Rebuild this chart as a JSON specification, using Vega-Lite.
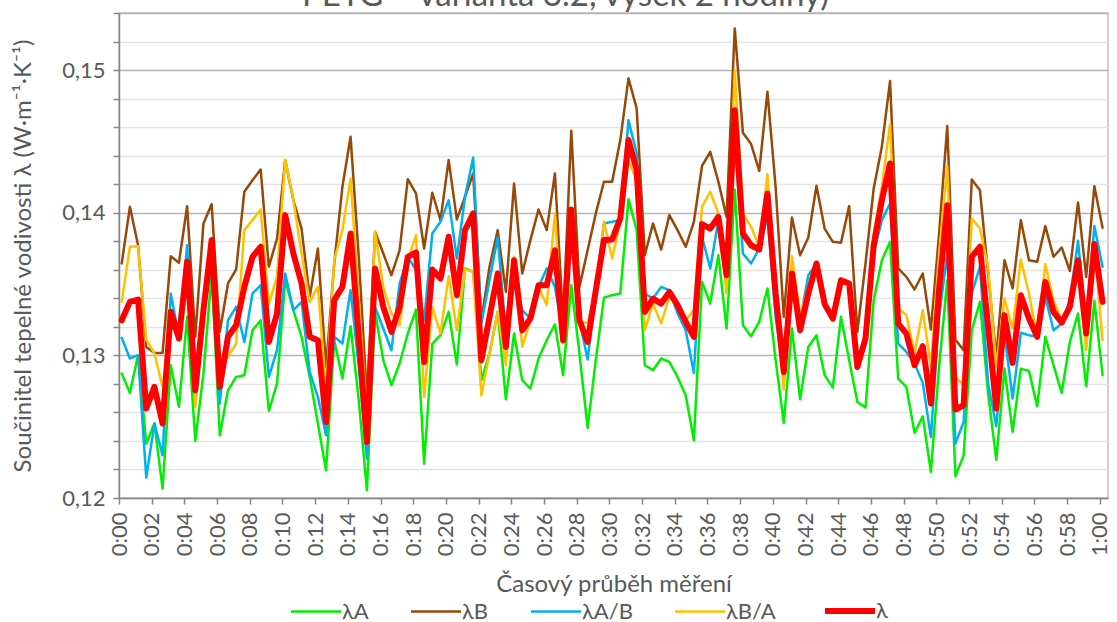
{
 "$schema": "https://vega.github.io/schema/vega-lite/v6.json",
 "width": 989, "height": 485,
 "autosize": {"type": "none"},
 "padding": {"left": 119, "top": 13, "right": 9, "bottom": 124},
 "background": "white",
 "title": {"text": "PETG – varianta 3.2, výsek 2 hodiny)", "anchor": "middle", "dx": -48, "offset": -11, "fontSize": 33, "font": "Lato", "fontWeight": "normal", "color": "#595959"},
 "config": {"view": {"stroke": "#bfbfbf", "strokeWidth": 1.5}, "font": "Lato"},
 "data": {"values": [
{"t":10,"a":0.12872,"b":0.13644,"ab":0.13123,"ba":0.13375,"l":0.13246},
{"t":40,"a":0.12737,"b":0.14041,"ab":0.12978,"ba":0.13761,"l":0.13375},
{"t":70,"a":0.13001,"b":0.13772,"ab":0.13001,"ba":0.13765,"l":0.13391},
{"t":100,"a":0.12381,"b":0.13059,"ab":0.12143,"ba":0.13111,"l":0.12627},
{"t":130,"a":0.12522,"b":0.13017,"ab":0.12522,"ba":0.13013,"l":0.12779},
{"t":160,"a":0.12066,"b":0.13017,"ab":0.12299,"ba":0.12779,"l":0.12522},
{"t":190,"a":0.12931,"b":0.13695,"ab":0.13434,"ba":0.13200,"l":0.13305},
{"t":220,"a":0.12639,"b":0.13649,"ab":0.13130,"ba":0.13153,"l":0.13118},
{"t":250,"a":0.13270,"b":0.14046,"ab":0.13772,"ba":0.13621,"l":0.13656},
{"t":280,"a":0.12400,"b":0.13130,"ab":0.12662,"ba":0.12639,"l":0.12755},
{"t":310,"a":0.12872,"b":0.13925,"ab":0.13270,"ba":0.13317,"l":0.13317},
{"t":340,"a":0.13574,"b":0.14060,"ab":0.13644,"ba":0.13737,"l":0.13808},
{"t":370,"a":0.12440,"b":0.13165,"ab":0.12662,"ba":0.12943,"l":0.12779},
{"t":400,"a":0.12755,"b":0.13504,"ab":0.13246,"ba":0.12989,"l":0.13130},
{"t":430,"a":0.12849,"b":0.13602,"ab":0.13340,"ba":0.13083,"l":0.13211},
{"t":460,"a":0.12861,"b":0.14147,"ab":0.13094,"ba":0.13878,"l":0.13480},
{"t":490,"a":0.13176,"b":0.14228,"ab":0.13434,"ba":0.13948,"l":0.13691},
{"t":520,"a":0.13246,"b":0.14303,"ab":0.13492,"ba":0.14023,"l":0.13761},
{"t":550,"a":0.12610,"b":0.13621,"ab":0.12849,"ba":0.13359,"l":0.13094},
{"t":580,"a":0.12802,"b":0.13819,"ab":0.13036,"ba":0.13550,"l":0.13293},
{"t":610,"a":0.13527,"b":0.14369,"ab":0.13574,"ba":0.14373,"l":0.13983},
{"t":640,"a":0.13317,"b":0.14088,"ab":0.13317,"ba":0.14088,"l":0.13714},
{"t":670,"a":0.13130,"b":0.13889,"ab":0.13375,"ba":0.13714,"l":0.13504},
{"t":700,"a":0.12849,"b":0.13410,"ab":0.12884,"ba":0.13375,"l":0.13130},
{"t":730,"a":0.12522,"b":0.13749,"ab":0.12709,"ba":0.13480,"l":0.13106},
{"t":760,"a":0.12194,"b":0.12919,"ab":0.12440,"ba":0.12755,"l":0.12533},
{"t":790,"a":0.13106,"b":0.13644,"ab":0.13130,"ba":0.13667,"l":0.13387},
{"t":820,"a":0.12837,"b":0.14182,"ab":0.13083,"ba":0.13878,"l":0.13480},
{"t":850,"a":0.13204,"b":0.14532,"ab":0.13457,"ba":0.14240,"l":0.13854},
{"t":880,"a":0.12685,"b":0.13691,"ab":0.12919,"ba":0.13387,"l":0.13130},
{"t":910,"a":0.12054,"b":0.12709,"ab":0.12276,"ba":0.12592,"l":0.12393},
{"t":940,"a":0.13305,"b":0.13866,"ab":0.13340,"ba":0.13866,"l":0.13609},
{"t":970,"a":0.12966,"b":0.13714,"ab":0.13188,"ba":0.13480,"l":0.13340},
{"t":1000,"a":0.12791,"b":0.13562,"ab":0.13036,"ba":0.13293,"l":0.13165},
{"t":1030,"a":0.12943,"b":0.13737,"ab":0.13504,"ba":0.13211,"l":0.13340},
{"t":1060,"a":0.13153,"b":0.14235,"ab":0.13691,"ba":0.13667,"l":0.13691},
{"t":1090,"a":0.13321,"b":0.14135,"ab":0.13597,"ba":0.13843,"l":0.13721},
{"t":1120,"a":0.12241,"b":0.13749,"ab":0.13246,"ba":0.12709,"l":0.12954},
{"t":1150,"a":0.13083,"b":0.14140,"ab":0.13854,"ba":0.13340,"l":0.13602},
{"t":1180,"a":0.13141,"b":0.13948,"ab":0.13936,"ba":0.13153,"l":0.13539},
{"t":1210,"a":0.13305,"b":0.14369,"ab":0.14088,"ba":0.13555,"l":0.13831},
{"t":1240,"a":0.12935,"b":0.13953,"ab":0.13679,"ba":0.13176,"l":0.13422},
{"t":1270,"a":0.13609,"b":0.14112,"ab":0.14112,"ba":0.13602,"l":0.13878},
{"t":1300,"a":0.13585,"b":0.14275,"ab":0.14387,"ba":0.13585,"l":0.13995},
{"t":1330,"a":0.12826,"b":0.13246,"ab":0.13223,"ba":0.12720,"l":0.12966},
{"t":1360,"a":0.13013,"b":0.13621,"ab":0.13527,"ba":0.13013,"l":0.13270},
{"t":1390,"a":0.13305,"b":0.13878,"ab":0.13826,"ba":0.13305,"l":0.13574},
{"t":1420,"a":0.12692,"b":0.13445,"ab":0.13153,"ba":0.12931,"l":0.13059},
{"t":1450,"a":0.13153,"b":0.14205,"ab":0.13550,"ba":0.13691,"l":0.13667},
{"t":1480,"a":0.12826,"b":0.13574,"ab":0.13317,"ba":0.13059,"l":0.13176},
{"t":1510,"a":0.12767,"b":0.13808,"ab":0.13258,"ba":0.13246,"l":0.13258},
{"t":1540,"a":0.12978,"b":0.14023,"ab":0.13480,"ba":0.13480,"l":0.13492},
{"t":1570,"a":0.13106,"b":0.13878,"ab":0.13609,"ba":0.13352,"l":0.13492},
{"t":1600,"a":0.13218,"b":0.14275,"ab":0.13480,"ba":0.13995,"l":0.13737},
{"t":1630,"a":0.12861,"b":0.13246,"ab":0.13153,"ba":0.13083,"l":0.13106},
{"t":1660,"a":0.13492,"b":0.14574,"ab":0.13854,"ba":0.13948,"l":0.14023},
{"t":1690,"a":0.13013,"b":0.13480,"ab":0.13246,"ba":0.13228,"l":0.13246},
{"t":1720,"a":0.12491,"b":0.13737,"ab":0.12971,"ba":0.13228,"l":0.13094},
{"t":1750,"a":0.12966,"b":0.13995,"ab":0.13457,"ba":0.13457,"l":0.13457},
{"t":1780,"a":0.13405,"b":0.14217,"ab":0.13925,"ba":0.13936,"l":0.13808},
{"t":1810,"a":0.13422,"b":0.14217,"ab":0.13936,"ba":0.13679,"l":0.13812},
{"t":1840,"a":0.13434,"b":0.14509,"ab":0.13948,"ba":0.13936,"l":0.13960},
{"t":1870,"a":0.14095,"b":0.14942,"ab":0.14649,"ba":0.14369,"l":0.14509},
{"t":1900,"a":0.13878,"b":0.14731,"ab":0.14416,"ba":0.14228,"l":0.14299},
{"t":1930,"a":0.12931,"b":0.13702,"ab":0.13434,"ba":0.13176,"l":0.13305},
{"t":1960,"a":0.12896,"b":0.13925,"ab":0.13398,"ba":0.13363,"l":0.13398},
{"t":1990,"a":0.12978,"b":0.13742,"ab":0.13480,"ba":0.13223,"l":0.13363},
{"t":2020,"a":0.12954,"b":0.13983,"ab":0.13457,"ba":0.13410,"l":0.13445},
{"t":2050,"a":0.12849,"b":0.13878,"ab":0.13293,"ba":0.13340,"l":0.13352},
{"t":2080,"a":0.12720,"b":0.13761,"ab":0.13176,"ba":0.13246,"l":0.13235},
{"t":2110,"a":0.12405,"b":0.13936,"ab":0.12877,"ba":0.13317,"l":0.13130},
{"t":2140,"a":0.13515,"b":0.14329,"ab":0.13831,"ba":0.14041,"l":0.13920},
{"t":2170,"a":0.13363,"b":0.14427,"ab":0.13609,"ba":0.14147,"l":0.13889},
{"t":2200,"a":0.13702,"b":0.14217,"ab":0.13948,"ba":0.13995,"l":0.13971},
{"t":2230,"a":0.13188,"b":0.13971,"ab":0.13621,"ba":0.13434,"l":0.13562},
{"t":2260,"a":0.14163,"b":0.15292,"ab":0.14509,"ba":0.15000,"l":0.14719},
{"t":2290,"a":0.13211,"b":0.14560,"ab":0.13714,"ba":0.13995,"l":0.13854},
{"t":2320,"a":0.13134,"b":0.14481,"ab":0.13644,"ba":0.13901,"l":0.13772},
{"t":2350,"a":0.13235,"b":0.14294,"ab":0.13749,"ba":0.13761,"l":0.13742},
{"t":2380,"a":0.13469,"b":0.14848,"ab":0.13971,"ba":0.14271,"l":0.14135},
{"t":2410,"a":0.12966,"b":0.14182,"ab":0.13270,"ba":0.13387,"l":0.13434},
{"t":2440,"a":0.12526,"b":0.13270,"ab":0.12872,"ba":0.12760,"l":0.12884},
{"t":2470,"a":0.13188,"b":0.13967,"ab":0.13480,"ba":0.13695,"l":0.13574},
{"t":2500,"a":0.12692,"b":0.13702,"ab":0.13246,"ba":0.13282,"l":0.13176},
{"t":2530,"a":0.13059,"b":0.13826,"ab":0.13562,"ba":0.13480,"l":0.13434},
{"t":2560,"a":0.13141,"b":0.14189,"ab":0.13644,"ba":0.13621,"l":0.13644},
{"t":2590,"a":0.12861,"b":0.13889,"ab":0.13340,"ba":0.13375,"l":0.13359},
{"t":2620,"a":0.12774,"b":0.13796,"ab":0.13246,"ba":0.13270,"l":0.13258},
{"t":2650,"a":0.13270,"b":0.13789,"ab":0.13515,"ba":0.13539,"l":0.13527},
{"t":2680,"a":0.12966,"b":0.14046,"ab":0.13492,"ba":0.13515,"l":0.13504},
{"t":2710,"a":0.12674,"b":0.13165,"ab":0.12907,"ba":0.12943,"l":0.12919},
{"t":2740,"a":0.12634,"b":0.13644,"ab":0.13106,"ba":0.13130,"l":0.13118},
{"t":2770,"a":0.13387,"b":0.14170,"ab":0.13714,"ba":0.13854,"l":0.13772},
{"t":2800,"a":0.13667,"b":0.14462,"ab":0.13948,"ba":0.14182,"l":0.14088},
{"t":2830,"a":0.13796,"b":0.14923,"ab":0.14065,"ba":0.14621,"l":0.14345},
{"t":2860,"a":0.12837,"b":0.13609,"ab":0.13083,"ba":0.13328,"l":0.13223},
{"t":2890,"a":0.12779,"b":0.13550,"ab":0.13024,"ba":0.13282,"l":0.13153},
{"t":2920,"a":0.12456,"b":0.13462,"ab":0.12943,"ba":0.13013,"l":0.12931},
{"t":2950,"a":0.12573,"b":0.13574,"ab":0.12807,"ba":0.13317,"l":0.13064},
{"t":2980,"a":0.12183,"b":0.13181,"ab":0.12428,"ba":0.12919,"l":0.12662},
{"t":3010,"a":0.12919,"b":0.13854,"ab":0.13270,"ba":0.13714,"l":0.13457},
{"t":3040,"a":0.13527,"b":0.14607,"ab":0.13714,"ba":0.14327,"l":0.14053},
{"t":3070,"a":0.12152,"b":0.13111,"ab":0.12381,"ba":0.12849,"l":0.12620},
{"t":3100,"a":0.12299,"b":0.13036,"ab":0.12533,"ba":0.12791,"l":0.12650},
{"t":3130,"a":0.13176,"b":0.14233,"ab":0.13434,"ba":0.13960,"l":0.13691},
{"t":3160,"a":0.13375,"b":0.14158,"ab":0.13621,"ba":0.13889,"l":0.13761},
{"t":3190,"a":0.12732,"b":0.13574,"ab":0.12802,"ba":0.13621,"l":0.13200},
{"t":3220,"a":0.12269,"b":0.12989,"ab":0.12503,"ba":0.12919,"l":0.12627},
{"t":3250,"a":0.12907,"b":0.13667,"ab":0.13153,"ba":0.13398,"l":0.13282},
{"t":3280,"a":0.12463,"b":0.13469,"ab":0.12697,"ba":0.13188,"l":0.12947},
{"t":3310,"a":0.12907,"b":0.13948,"ab":0.13158,"ba":0.13672,"l":0.13422},
{"t":3340,"a":0.12891,"b":0.13667,"ab":0.13141,"ba":0.13434,"l":0.13258},
{"t":3370,"a":0.12643,"b":0.13656,"ab":0.13130,"ba":0.13130,"l":0.13130},
{"t":3400,"a":0.13130,"b":0.13906,"ab":0.13410,"ba":0.13639,"l":0.13515},
{"t":3430,"a":0.12931,"b":0.13691,"ab":0.13176,"ba":0.13387,"l":0.13305},
{"t":3460,"a":0.12737,"b":0.13756,"ab":0.13223,"ba":0.13246,"l":0.13230},
{"t":3490,"a":0.13094,"b":0.13592,"ab":0.13387,"ba":0.13340,"l":0.13340},
{"t":3520,"a":0.13293,"b":0.14072,"ab":0.13803,"ba":0.13667,"l":0.13667},
{"t":3550,"a":0.12784,"b":0.13550,"ab":0.13223,"ba":0.13036,"l":0.13153},
{"t":3580,"a":0.13382,"b":0.14186,"ab":0.13906,"ba":0.13761,"l":0.13780},
{"t":3610,"a":0.12861,"b":0.13894,"ab":0.13621,"ba":0.13106,"l":0.13375}
 ]},
 "transform": [{"fold": ["a", "b", "ab", "ba", "l"], "as": ["s", "v"]}],
 "encoding": {
  "x": {"field": "t", "type": "quantitative",
   "scale": {"domain": [0, 3630], "nice": false, "zero": false},
   "axis": {"values": [0,120,240,360,480,600,720,840,960,1080,1200,1320,1440,1560,1680,1800,1920,2040,2160,2280,2400,2520,2640,2760,2880,3000,3120,3240,3360,3480,3600],
    "labelExpr": "floor(datum.value/3600) + ':' + (floor(datum.value/60)%60 < 10 ? '0' : '') + (floor(datum.value/60)%60)",
    "labelAngle": 270, "labelFontSize": 22, "labelColor": "#595959", "labelPadding": 8, "labelFlush": false, "labelOverlap": false,
    "tickSize": 6, "tickColor": "#868686", "tickWidth": 1.5,
    "domainColor": "#868686", "domainWidth": 1.5, "grid": false,
    "title": "Časový průběh měření", "titleFontSize": 24, "titleFontWeight": "normal", "titleColor": "#595959", "titlePadding": 17}},
  "y": {"field": "v", "type": "quantitative",
   "scale": {"domain": [0.12, 0.154], "nice": false, "zero": false},
   "axis": {"values": [0.12,0.122,0.124,0.126,0.128,0.13,0.132,0.134,0.136,0.138,0.14,0.142,0.144,0.146,0.148,0.15,0.152,0.154],
    "labelExpr": "abs(datum.value*100 - round(datum.value*100)) < 0.01 ? replace(format(datum.value, '.2f'), '.', ',') : ''",
    "labelFontSize": 22, "labelColor": "#595959", "labelPadding": 8, "labelFlush": false, "labelOverlap": false,
    "tickSize": 6, "tickColor": "#868686", "tickWidth": 1.5,
    "domainColor": "#868686", "domainWidth": 1.5,
    "grid": true,
    "gridColor": {"condition": {"test": "datum.value > 0.1535 || abs(datum.value*100 - round(datum.value*100)) < 0.01", "value": "#b4b4b4"}, "value": "#e4e4e4"},
    "gridWidth": 1.5,
    "title": "Součinitel tepelné vodivosti λ (W·m⁻¹·K⁻¹)", "titleFontSize": 24, "titleFontWeight": "normal", "titleColor": "#595959", "titlePadding": 26}},
  "color": {"field": "s", "type": "nominal",
   "scale": {"domain": ["a", "b", "ab", "ba", "l"], "range": ["#00ee00", "#984807", "#00b0f0", "#ffc000", "#ff0000"]},
   "legend": {"title": null, "orient": "none", "legendX": 186, "legendY": 587, "direction": "horizontal", "symbolType": "stroke", "symbolSize": 2500, "labelFontSize": 22, "labelColor": "#595959", "labelOffset": 15, "columnPadding": 37,
    "labelExpr": "datum.label == 'a' ? 'λA' : datum.label == 'b' ? 'λB' : datum.label == 'ab' ? 'λA/B' : datum.label == 'ba' ? 'λB/A' : 'λ'",
    "encode": {"symbols": {"update": {"strokeWidth": {"signal": "datum.value == 'l' ? 6 : 2.5"}}}}}}
 },
 "layer": [
  {"transform": [{"filter": "datum.s != 'l'"}], "mark": {"type": "line", "strokeWidth": 2.5, "strokeJoin": "round", "strokeCap": "round"}},
  {"transform": [{"filter": "datum.s == 'l'"}], "mark": {"type": "line", "strokeWidth": 6, "strokeJoin": "round", "strokeCap": "round"}}
 ]
}
